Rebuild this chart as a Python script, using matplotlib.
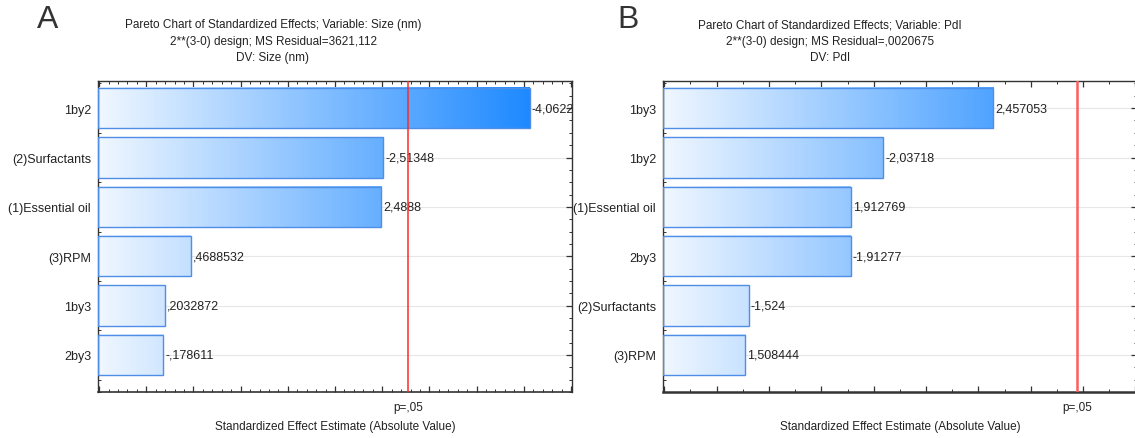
import numpy as np
import matplotlib
matplotlib.use("Agg")
import matplotlib.pyplot as plt
from matplotlib.colors import LinearSegmentedColormap
from matplotlib.ticker import MultipleLocator, NullFormatter
from matplotlib.transforms import blended_transform_factory

plt.rcParams['font.family'] = ['Liberation Sans', 'DejaVu Sans']

# ---------------- data ----------------
cats_a = ['1by2', '(2)Surfactants', '(1)Essential oil', '(3)RPM', '1by3', '2by3']
vals_a = [-4.0622, -2.51348, 2.4888, 0.4688532, 0.2032872, -0.178611]
labels_a = ['-4,0622', '-2,51348', '2,4888', ',4688532', ',2032872', '-,178611']
title_a = ['Pareto Chart of Standardized Effects; Variable: Size (nm)',
           '2**(3-0) design; MS Residual=3621,112',
           'DV: Size (nm)']

cats_b = ['1by3', '1by2', '(1)Essential oil', '2by3', '(2)Surfactants', '(3)RPM']
vals_b = [2.457053, -2.03718, 1.912769, -1.91277, -1.524, 1.508444]
labels_b = ['2,457053', '-2,03718', '1,912769', '-1,91277', '-1,524', '1,508444']
title_b = ['Pareto Chart of Standardized Effects; Variable: PdI',
           '2**(3-0) design; MS Residual=,0020675',
           'DV: PdI']

t_crit = 2.776
crit_label = 'p=,05'
xlabel = 'Standardized Effect Estimate (Absolute Value)'

W, H = 1135, 439
fig = plt.figure(figsize=(W / 100, H / 100), dpi=100)

cmap = LinearSegmentedColormap.from_list('grad', ['#f0f7ff', '#0a7fff'])


def panel(rect, cats, vals, labels, xlim, major, minor, red_color, red_lw, bottom_lw):
    ax = fig.add_axes(rect)
    n = len(cats)
    ys = np.arange(n)[::-1]
    xmin, xmax = xlim
    h = 0.82
    for y in ys:
        ax.axhline(y, color='#e6e6e6', lw=0.8, zorder=0)
    for y, v, lab in zip(ys, vals, labels):
        L = abs(v)
        f1 = (L - xmin) / (xmax - xmin)
        grad = np.linspace(0, f1, 256)[None, :]
        ax.imshow(grad, extent=[xmin, L, y - h / 2, y + h / 2], aspect='auto',
                  cmap=cmap, vmin=0, vmax=1, zorder=2, interpolation='bilinear')
        ax.barh(y, L - xmin, left=xmin, height=h, fill=False,
                edgecolor='#4f8ee6', lw=1.0, zorder=3)
        ax.text(L + (xmax - xmin) * 0.004, y, lab, va='center', ha='left',
                fontsize=9, color='#222222', zorder=4, clip_on=True)
    ax.axvline(t_crit, color=red_color, lw=red_lw, zorder=5)
    ax.set_xlim(xmin, xmax)
    ax.set_ylim(-0.75, n - 1 + 0.55)
    ax.set_yticks(ys)
    ax.set_yticklabels(cats, fontsize=9, color='#222222')
    ax.yaxis.set_minor_locator(MultipleLocator(0.25))
    ax.xaxis.set_major_locator(MultipleLocator(major))
    ax.xaxis.set_minor_locator(MultipleLocator(minor))
    ax.xaxis.set_major_formatter(NullFormatter())
    ax.tick_params(which='both', direction='in', top=True, right=True,
                   color='#333333', pad=5)
    ax.tick_params(which='major', length=4, width=0.9)
    ax.tick_params(which='minor', length=2, width=0.7)
    for s in ax.spines.values():
        s.set_color('#333333')
        s.set_linewidth(1.0)
    ax.spines['bottom'].set_linewidth(bottom_lw)
    tr = blended_transform_factory(ax.transData, ax.transAxes)
    ax.text(t_crit, -0.048, crit_label, transform=tr, ha='center', va='center',
            fontsize=8.5, color='#222222')
    ax.text(0.5, -0.11, xlabel, transform=ax.transAxes, ha='center', va='center',
            fontsize=8.5, color='#222222')
    return ax


axw = 473.7 / W
axb = 1 - 393 / H
axh = 311 / H
panel([98 / W, axb, axw, axh], cats_a, vals_a, labels_a, (-0.512, 4.508),
      0.5, 0.1, '#ff2a2a', 1.1, 1.2)
panel([663 / W, axb, axw, axh], cats_b, vals_b, labels_b, (1.195, 3.005),
      0.2, 0.1, '#ff5c5c', 1.8, 1.8)

for cx, lines in ((273, title_a), (830, title_b)):
    for yy, t in zip((25, 42, 58), lines):
        fig.text(cx / W, 1 - yy / H, t, ha='center', va='center', fontsize=8.5,
                 color='#222222')

fig.text(48 / W, 1 - 20 / H, 'A', ha='center', va='center', fontsize=23, color='#333333')
fig.text(628 / W, 1 - 20 / H, 'B', ha='center', va='center', fontsize=23, color='#333333')

fig.savefig('out.png', dpi=100)
